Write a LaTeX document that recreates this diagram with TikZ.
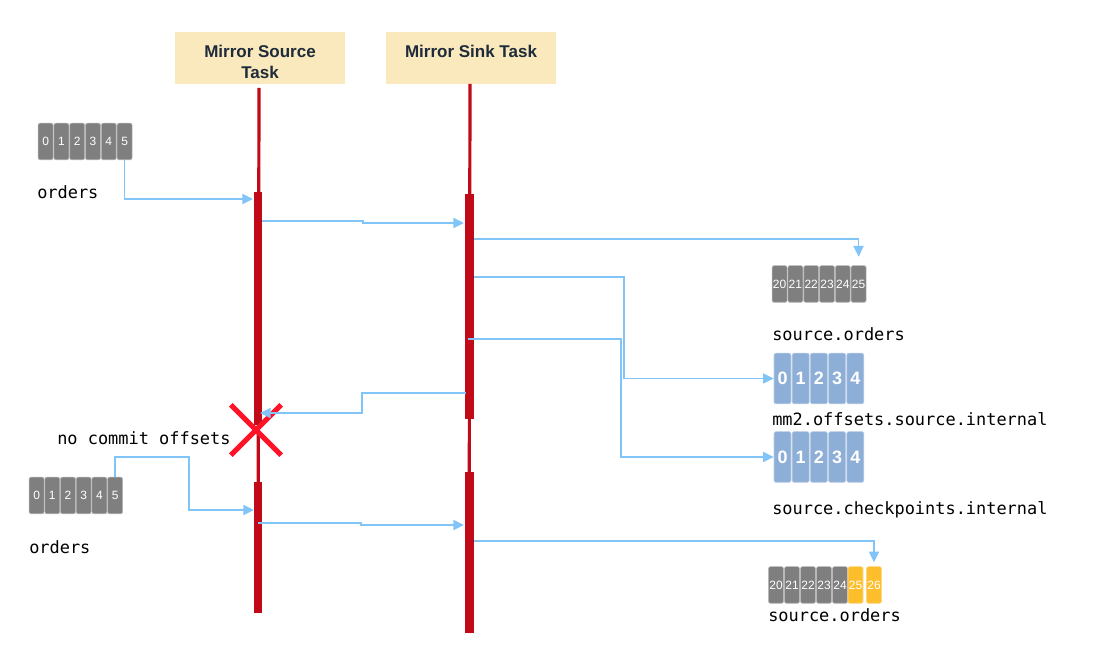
\documentclass[tikz,border=0pt]{standalone}
\usepackage{fontspec}
\setmainfont{Liberation Sans}
\newfontfamily\monofont{DejaVu Sans Mono}
\usetikzlibrary{arrows.meta,shapes.misc}
\definecolor{hdrfill}{HTML}{FAE9BC}
\definecolor{hdrtext}{HTML}{1E2B3A}
\definecolor{lifered}{HTML}{C00A18}
\definecolor{msgblue}{HTML}{80C4F8}
\definecolor{blkgrey}{HTML}{7F7F7F}
\definecolor{blkblue}{HTML}{8DAED6}
\definecolor{blkorange}{HTML}{FDBE2C}
\definecolor{failred}{HTML}{FF1427}
\newcommand{\hdrtext}[1]{\raisebox{-7pt}[0pt][0pt]{\begin{tabular}{@{}c@{}}#1\end{tabular}}}
\tikzset{
  hdr/.style={fill=hdrfill,minimum width=127.5pt,minimum height=39pt,
    text=hdrtext,inner sep=2pt,font=\fontsize{12.75}{15.75}\selectfont\bfseries},
  life/.style={draw=lifered,line width=2.4pt},
  bar/.style={fill=lifered},
  msg/.style={draw=msgblue,line width=1.3pt,-{Triangle[length=8pt,width=7.5pt]}},
  blk/.style={rounded corners=1.5pt,line width=0.5pt,inner sep=0pt,text=white},
  gblk/.style={blk,fill=blkgrey,draw=blkgrey!55,minimum width=11.25pt,
    minimum height=27.5pt,font=\fontsize{9}{9}\selectfont},
  oblk/.style={gblk,fill=blkorange,draw=blkorange!60},
  bblk/.style={blk,fill=blkblue,draw=blkblue!60,minimum width=12.75pt,
    minimum height=38pt,font=\fontsize{13.5}{13.5}\selectfont\bfseries},
  lbl/.style={anchor=west,inner sep=0pt,font=\monofont\fontsize{12.7}{15}\selectfont},
  fail/.style={draw=failred,cross out,line width=3.8pt,minimum size=34pt,inner sep=0pt}
}
\begin{document}
\begin{tikzpicture}[x=0.75pt,y=-0.75pt]
\useasboundingbox (0,0) rectangle (1108,648);
%tasks
\node[hdr] (src) at (260,58) {\hdrtext{Mirror Source\\Task}};
\node[hdr] (snk) at (471,58) {\hdrtext{Mirror Sink Task\\\phantom{Task}}};
%lifelines
\coordinate (srcTop) at (259,88);
\coordinate (srcEnd) at (258,613);
\coordinate (snkTop) at (470,84);
\coordinate (snkEnd) at (469,633);
\draw[life] (srcTop) -- (srcEnd);
\draw[life] (snkTop) -- (snkEnd);
\fill[bar] (253.5,192) rectangle (262,425);
\fill[bar] (254,482) rectangle (262,613);
\fill[bar] (464.5,194) rectangle (473.5,419);
\fill[bar] (465,472) rectangle (474,633);
%topics
\foreach \n [count=\i from 0] in {0,...,5}
  \node[gblk] (a\i) at ({45.6+15.8*\i},141.5) {\n};
\node[lbl] (aName) at (37,192) {orders};
\foreach \n [count=\i from 0] in {20,...,25}
  \node[gblk] (s\i) at ({779.6+15.8*\i},284) {\n};
\node[lbl] (sName) at (772,334) {source.orders};
\foreach \n [count=\i from 0] in {0,...,4}
  \node[bblk] (m\i) at ({782.5+18.2*\i},378.5) {\n};
\node[lbl] (mName) at (772,419) {mm2.offsets.source.internal};
\foreach \n [count=\i from 0] in {0,...,4}
  \node[bblk] (c\i) at ({782.5+18.2*\i},457) {\n};
\node[lbl] (cName) at (772,510) {source.checkpoints.internal};
\foreach \n [count=\i from 0] in {0,...,5}
  \node[gblk] (b\i) at ({36.6+15.7*\i},495.5) {\n};
\node[lbl] (bName) at (29,547) {orders};
\foreach \n [count=\i from 0] in {20,...,24}
  \node[gblk] (t\i) at ({776+16*\i},585) {\n};
\node[oblk] (t5) at (855.5,585) {25};
\node[oblk] (t6) at (874,585) {26};
\node[lbl] (tName) at (768,615) {source.orders};
%failed commit
\node[fail] (cross) at (256,430) {};
\node[lbl] (noCommit) at (57,438) {no commit offsets};
%messages
\coordinate (inA) at (253,199);
\coordinate (outA) at (262,221);
\coordinate (inB) at (464,223);
\coordinate (out1) at (474,239);
\coordinate (out2) at (474,277);
\coordinate (out3) at (468,339);
\coordinate (out4) at (466,393);
\coordinate (back) at (260,413);
\coordinate (inC) at (254,510);
\coordinate (outC) at (258,523);
\coordinate (inD) at (464,525);
\coordinate (out5) at (474,541);
\draw[msg] (a5.south) |- (inA);
\draw[msg] (outA) -- ++(101,0) |- (inB);
\draw[msg,shorten >=6.5pt] (out1) -| (s5.north);
\draw[msg] (out2) -- ++(150,0) |- (m0.west);
\draw[msg] (out3) -- ++(153,0) |- (c0.west);
\draw[msg] (out4) -- ++(-104,0) |- (back);
\draw[msg] (b5.north) |- (189,457) |- (inC);
\draw[msg] (outC) -- ++(103,0) |- (inD);
\draw[msg,shorten >=3pt] (out5) -| (t6.north);
\end{tikzpicture}
\end{document}
